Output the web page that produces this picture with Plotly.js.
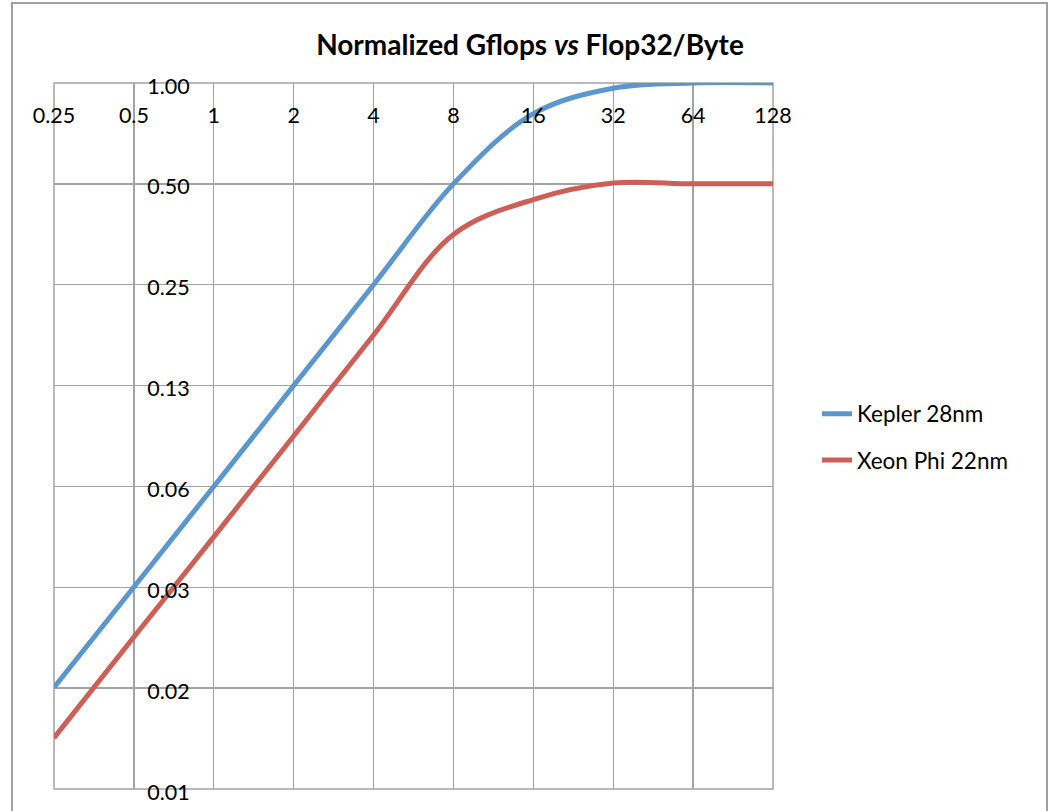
<!DOCTYPE html>
<html>
<head>
<meta charset="utf-8">
<script src="https://cdn.plot.ly/plotly-3.0.1.min.js"></script>
<style>html,body{margin:0;padding:0;background:#fff;}#chart{width:1049px;height:811px;}</style>
</head>
<body>
<div id="chart"></div>
<script>
var flopPerByte = [0.25, 0.5, 1, 2, 4, 8, 16, 32, 64, 128];
var kepler28 = [0.0157, 0.0313, 0.0625, 0.125, 0.25, 0.5, 0.81, 0.965, 1.0, 1.0];
var xeonPhi22 = [0.0111, 0.0222, 0.0442, 0.0884, 0.177, 0.353, 0.449, 0.503, 0.5, 0.5];
var xTickVals = [0.25, 0.5, 1, 2, 4, 8, 16, 32, 64, 128];
var xTickText = ['0.25', '0.5', '1', '2', '4', '8', '16', '32', '64', '128'];
var yTickVals = [0.0078125, 0.015625, 0.03125, 0.0625, 0.125, 0.25, 0.5, 1];
var yTickText = ['0.01', '0.02', '0.03', '0.06', '0.13', '0.25', '0.50', '1.00'];

var W = 1049, H = 811;
var font = 'Lato, "Open Sans", sans-serif';
var grid = '#a3a3a3';

var traces = [
  {x: flopPerByte, y: kepler28, name: 'Kepler 28nm', type: 'scatter', mode: 'lines',
   line: {color: '#5b96cd', width: 5, shape: 'spline', smoothing: 1}, legendgroup: 'a'},
  {x: flopPerByte, y: xeonPhi22, name: 'Xeon Phi 22nm', type: 'scatter', mode: 'lines',
   line: {color: '#cd5f57', width: 5, shape: 'spline', smoothing: 1}, legendgroup: 'b'}
];

var layout = {
  width: W, height: H,
  margin: {l: 0, r: 0, t: 0, b: 0},
  paper_bgcolor: '#fff', plot_bgcolor: '#fff',
  font: {family: font, size: 21, color: '#000'},
  title: {text: '<b>Normalized Gflops <i>vs</i> Flop32/Byte</b>', font: {family: font, size: 28, color: '#000'},
          x: 530 / W, xanchor: 'center', y: 1 - 45 / H, yanchor: 'middle'},
  xaxis: {type: 'log', domain: [54 / W, 773 / W], range: [Math.log10(0.25), Math.log10(128)],
          tickvals: xTickVals, ticktext: xTickText, anchor: 'free', position: 1 - 83 / H, side: 'bottom',
          ticks: 'outside', ticklen: 13, tickcolor: 'rgba(0,0,0,0)', showline: false,
          tickfont: {family: font, size: 21.5, color: '#000'},
          showgrid: true, gridcolor: grid, gridwidth: 1.3, zeroline: false, fixedrange: true},
  yaxis: {type: 'log', domain: [1 - 789 / H, 1 - 83 / H], range: [Math.log10(0.0078125), 0],
          tickvals: yTickVals, ticktext: yTickText, anchor: 'free', position: 214 / W,
          ticks: 'outside', ticklen: 20, tickcolor: 'rgba(0,0,0,0)', showline: false,
          ticklabelshift: 3,
          tickfont: {family: font, size: 21.5, color: '#000'},
          showgrid: true, gridcolor: grid, gridwidth: 1.3, zeroline: false, fixedrange: true},
  showlegend: true,
  legend: {x: 817 / W, xanchor: 'left', y: 1 - 437 / H, yanchor: 'middle', tracegroupgap: 14,
           font: {family: font, size: 22.5, color: '#000'}, bgcolor: 'rgba(0,0,0,0)'},
  shapes: [
    {type: 'rect', xref: 'x domain', yref: 'y domain', x0: 0, x1: 1, y0: 0, y1: 1,
     line: {color: grid, width: 1.5}, layer: 'below'},
    {type: 'rect', xref: 'paper', yref: 'paper', x0: 12 / W, x1: 1047 / W, y0: -0.02, y1: 1 - 3 / H,
     line: {color: '#a0a0a0', width: 2}, layer: 'below'}
  ]
};

Plotly.newPlot('chart', traces, layout, {displayModeBar: false, staticPlot: true});
</script>
</body>
</html>
